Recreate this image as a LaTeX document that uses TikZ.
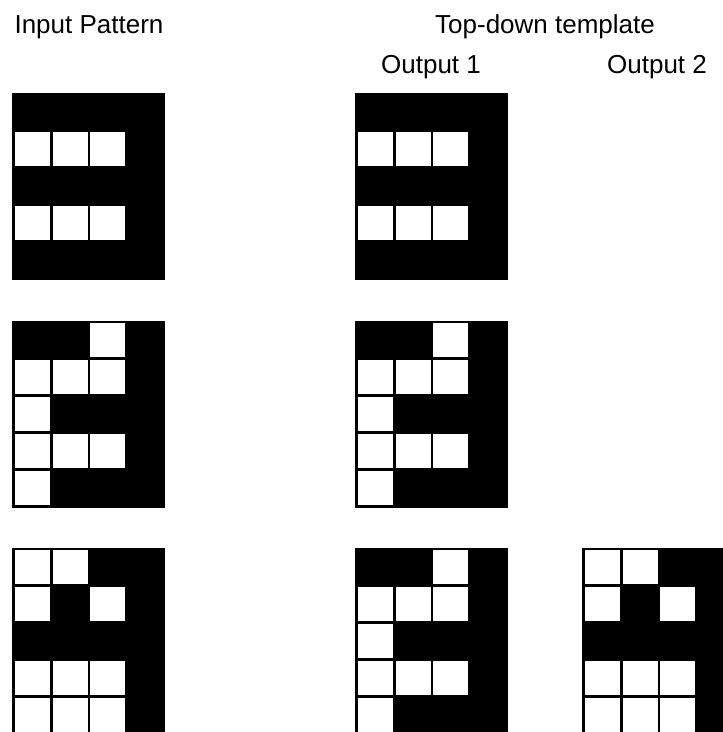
\documentclass[tikz,border=0pt]{standalone}
\usepackage{fontspec}
\setmainfont{Liberation Sans}
\newcommand\gridpat[3]{%
  \fill[black] (#1,#2) rectangle ++(153,187);
  \foreach \c/\r in {#3} {\fill[white] ({#1+3+37.5*\c},{#2+2+37*\r}) rectangle ++(35,34);}
}
\begin{document}
\begin{tikzpicture}[x=1pt,y=-1pt,
  lbl/.style={font=\fontsize{26}{30}\selectfont, inner sep=0pt, anchor=base}]
\clip (0,0) rectangle (723,732);
\fill[white] (0,0) rectangle (723,732);
\node[lbl] (inp) at (89,33) {Input Pattern};
\node[lbl] (tdt) at (545,33) {Top-down template};
\node[lbl] (out1) at (431,73) {Output 1};
\node[lbl] (out2) at (657,73) {Output 2};
% row 1
\gridpat{12}{93}{0/1,1/1,2/1,0/3,1/3,2/3}
\gridpat{355}{93}{0/1,1/1,2/1,0/3,1/3,2/3}
% row 2
\gridpat{12}{321}{2/0,0/1,1/1,2/1,0/2,0/3,1/3,2/3,0/4}
\gridpat{355}{321}{2/0,0/1,1/1,2/1,0/2,0/3,1/3,2/3,0/4}
% row 3
\gridpat{12}{548}{0/0,1/0,0/1,2/1,0/3,1/3,2/3,0/4,1/4,2/4}
\gridpat{355}{548}{2/0,0/1,1/1,2/1,0/2,0/3,1/3,2/3,0/4}
\gridpat{582}{548}{0/0,1/0,0/1,2/1,0/3,1/3,2/3,0/4,1/4,2/4}
\end{tikzpicture}
\end{document}
